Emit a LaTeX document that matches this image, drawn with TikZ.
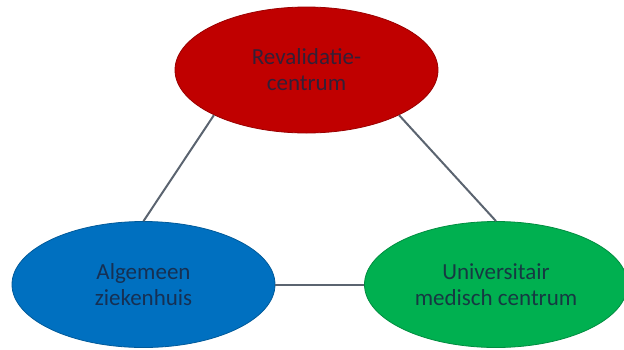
\documentclass[tikz,border=0pt]{standalone}
\usepackage{fontspec}
\setmainfont{Carlito}
\usetikzlibrary{shapes.geometric}
\definecolor{cred}{HTML}{C00000}
\definecolor{cblue}{HTML}{0070C0}
\definecolor{cgreen}{HTML}{00B050}
\definecolor{clink}{HTML}{5B6470}
\definecolor{ctext}{HTML}{1A2540}
\begin{document}
\begin{tikzpicture}[x=1pt,y=-1pt,
  oval/.style={ellipse, draw=#1!80!black, line width=0.8pt, fill=#1,
    minimum width=263pt, minimum height=126pt, inner sep=0pt,
    align=center, text=ctext, text opacity=0.85,
    font=\fontsize{23pt}{26pt}\selectfont},
  link/.style={draw=clink, line width=2pt}]
\useasboundingbox (0,0) rectangle (624,349);
\node[oval=cred] (rc) at (306.5,70) {Revalidatie{-}\\centrum};
\node[oval=cblue] (az) at (143.5,284.5) {Algemeen\\ziekenhuis};
\node[oval=cgreen] (umc) at (496,284.5) {Universitair\\medisch centrum};
\draw[link] (rc.206) -- (az.north);
\draw[link] (rc.334) -- (umc.north);
\draw[link] (az.east) -- (umc.west);
\end{tikzpicture}
\end{document}
